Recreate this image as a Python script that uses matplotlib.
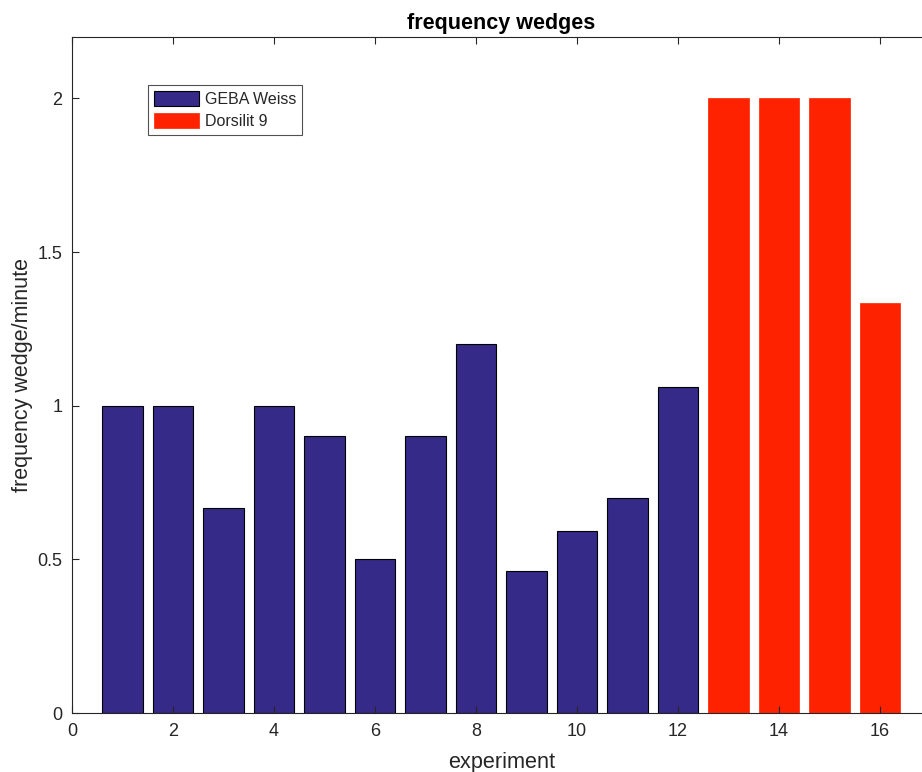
import matplotlib
matplotlib.use("Agg")
import matplotlib.pyplot as plt

plt.rcParams['font.family'] = ['Liberation Sans', 'DejaVu Sans']

experiments = list(range(1, 17))
geba_exp = list(range(1, 13))
geba_freq = [1.0, 1.0, 0.6667, 1.0, 0.9, 0.5, 0.9, 1.2, 0.4615, 0.5926, 0.7, 1.0625]
dors_exp = [13, 14, 15, 16]
dors_freq = [2.0, 2.0, 2.0, 1.3333]
x_ticks = [0, 2, 4, 6, 8, 10, 12, 14, 16]
y_ticks = [0, 0.5, 1, 1.5, 2]
y_tick_labels = ['0', '0.5', '1', '1.5', '2']

blue = '#352a87'
red = '#ff2200'
txt = '#262626'

fig = plt.figure(figsize=(9.22, 7.72), dpi=100)
ax = fig.add_axes([72 / 922, 59 / 772, 858.5 / 922, 676 / 772])

ax.bar(geba_exp, geba_freq, width=0.8, color=blue, edgecolor='black',
       linewidth=0.8, label='GEBA Weiss')
ax.bar(dors_exp, dors_freq, width=0.8, color=red, edgecolor=red,
       linewidth=0.5, label='Dorsilit 9')

ax.set_xlim(0, 17)
ax.set_ylim(0, 2.2)
ax.set_xticks(x_ticks)
ax.set_yticks(y_ticks)
ax.set_yticklabels(y_tick_labels)
ax.tick_params(direction='in', top=True, right=True, length=5, width=0.8,
               colors=txt, labelsize=13, pad=7)
for s in ax.spines.values():
    s.set_color(txt)
    s.set_linewidth(0.8)

ax.set_xlabel('experiment', fontsize=15.6, color=txt, labelpad=9)
ax.set_ylabel('frequency wedge/minute', fontsize=15.5, color=txt, labelpad=3)
ax.set_title('frequency wedges', fontsize=15.5, fontweight='bold', color='black', pad=6)

leg = ax.legend(loc='upper left', bbox_to_anchor=(0.0885, 0.929), fontsize=11.5,
                frameon=True, fancybox=False, handlelength=2.8, handleheight=1.0,
                handletextpad=0.35, borderpad=0.4, labelspacing=0.4,
                borderaxespad=0)
leg.get_frame().set_edgecolor(txt)
leg.get_frame().set_linewidth(0.8)
for t in leg.get_texts():
    t.set_color(txt)

fig.savefig('out.png', dpi=100)
